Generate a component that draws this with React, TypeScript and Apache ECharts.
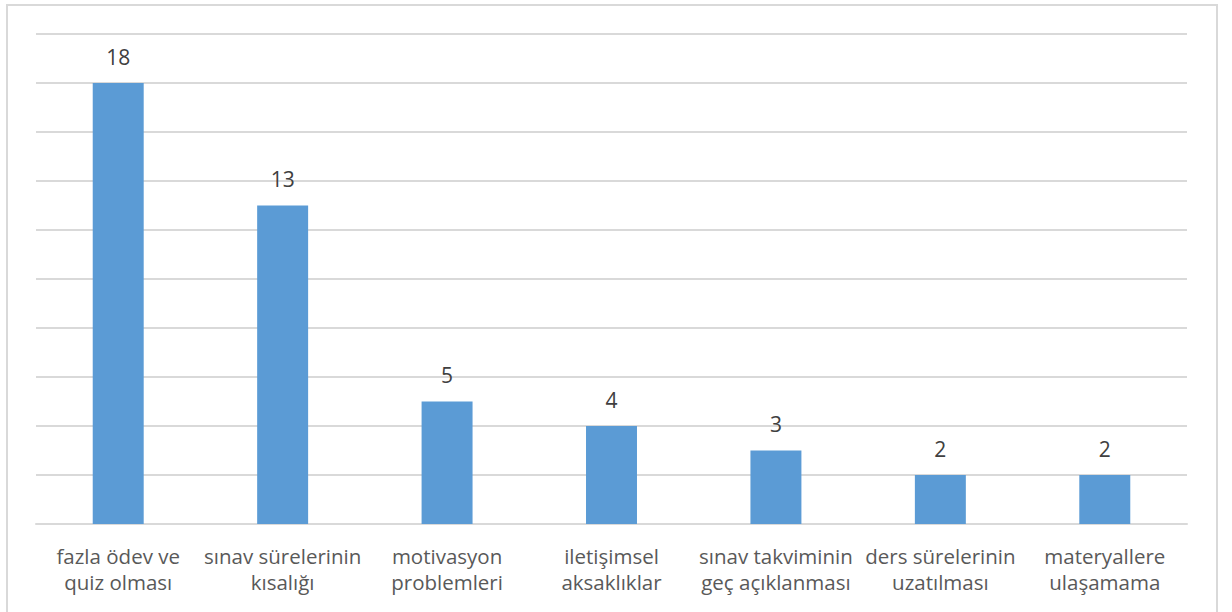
import React, { useEffect, useRef } from "react";
import * as echarts from "echarts";

const categories = [
  "fazla ödev ve\nquiz olması",
  "sınav sürelerinin\nkısalığı",
  "motivasyon\nproblemleri",
  "iletişimsel\naksaklıklar",
  "sınav takviminin\ngeç açıklanması",
  "ders sürelerinin\nuzatılması",
  "materyallere\nulaşamama",
];
const values = [18, 13, 5, 4, 3, 2, 2];

const FONT = "'Open Sans', sans-serif";

export default function App() {
  const ref = useRef<HTMLDivElement>(null);
  useEffect(() => {
    if (!ref.current) return;
    const chart = echarts.init(ref.current, undefined, { renderer: "svg" });
    chart.setOption({
      animation: false,
      backgroundColor: "#ffffff",
      graphic: [
        {
          type: "rect",
          shape: { x: 7, y: 5, width: 1210, height: 620 },
          style: { fill: "none", stroke: "#d9d9d9", lineWidth: 2 },
          silent: true,
        },
      ],
      grid: { left: 36, right: 45, top: 34, bottom: 88, containLabel: false },
      xAxis: {
        type: "category",
        data: categories,
        axisLine: { show: true, lineStyle: { color: "#d9d9d9", width: 2 } },
        axisTick: { show: false },
        axisLabel: {
          interval: 0,
          color: "#595959",
          fontFamily: FONT,
          fontSize: 20.5,
          lineHeight: 26,
          margin: 19,
        },
      },
      yAxis: {
        type: "value",
        min: 0,
        max: 20,
        interval: 2,
        axisLabel: { show: false },
        axisLine: { show: false },
        axisTick: { show: false },
        splitLine: { lineStyle: { color: "#d9d9d9", width: 2 } },
      },
      series: [
        {
          type: "bar",
          data: values,
          barWidth: "31%",
          itemStyle: { color: "#5b9bd5" },
          label: {
            show: true,
            position: "top",
            distance: 16,
            color: "#404040",
            fontFamily: FONT,
            fontSize: 21,
          },
        },
      ],
    });
    return () => chart.dispose();
  }, []);
  return (
    <div
      ref={ref}
      style={{ position: "absolute", left: 0, top: 0, width: 1232, height: 612 }}
    />
  );
}
